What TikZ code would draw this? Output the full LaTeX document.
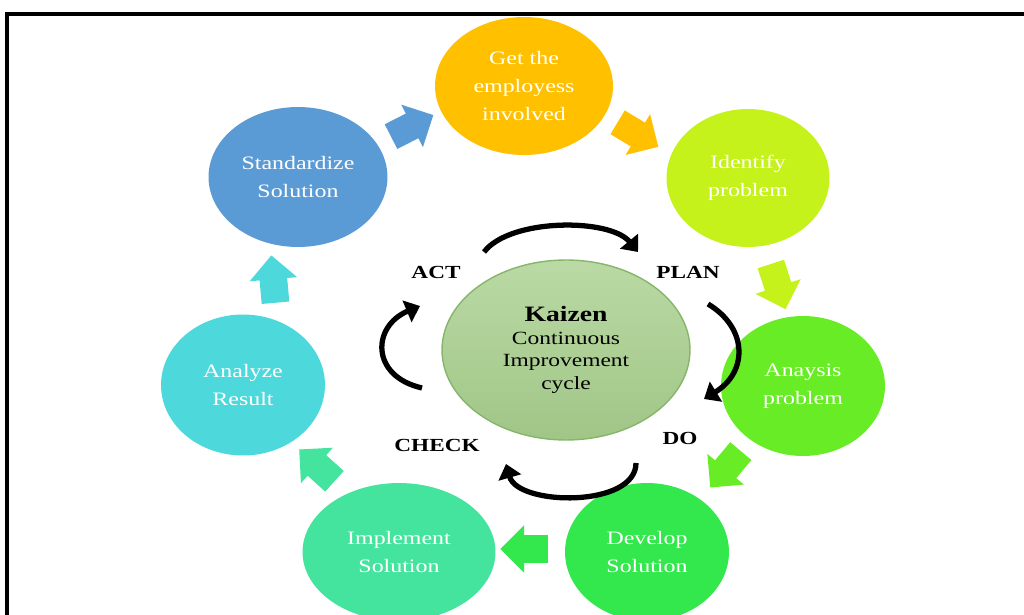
\documentclass[tikz,border=0pt]{standalone}
\usepackage{fontspec}
\setmainfont{Liberation Serif}[FakeStretch=1.26]
\usetikzlibrary{shapes.geometric, shapes.arrows, arrows.meta}
\definecolor{kzorange}{HTML}{FFC000}
\definecolor{kzlime}{HTML}{C6F21C}
\definecolor{kzgreen}{HTML}{68EC26}
\definecolor{kzmint}{HTML}{33E84C}
\definecolor{kzsea}{HTML}{44E49E}
\definecolor{kzcyan}{HTML}{4DD8DC}
\definecolor{kzblue}{HTML}{5B9BD5}
\definecolor{kzcore}{HTML}{A9D08E}
\definecolor{kzedge}{HTML}{86B56B}

\begin{document}
\begin{tikzpicture}[x=0.02cm, y=-0.02cm,
  every node/.style={font=\fontsize{10.8}{16}\selectfont},
  stage/.style={ellipse, inner sep=0, text=white, align=center,
                minimum width=3.3cm, minimum height=2.8cm},
  blockarrow/.style={single arrow, inner xsep=0, inner ysep=0.27cm,
                     single arrow head extend=0.2cm, minimum height=0.95cm},
  cyc/.style={line width=3pt, -{Triangle[length=8pt,width=13pt]}},
  pdca/.style={font=\fontsize{10.5}{12}\selectfont\bfseries}
]

\useasboundingbox (0,0) rectangle (1024,615);
\clip (0,0) rectangle (1024,615);

% Frame round the figure
\draw[line width=2.3pt] (7,14) rectangle (1040,640);

% Seven steps of the cycle
\node[stage, fill=kzorange, minimum width=3.56cm, minimum height=2.76cm]
  (involve) at (524,86) {Get the\\employess\\involved};
\node[stage, fill=kzlime, minimum width=3.26cm, minimum height=2.76cm]
  (identify) at (748,178) {Identify\\problem};
\node[stage, fill=kzgreen, minimum width=3.28cm, minimum height=2.8cm]
  (analysis) at (803,386) {Anaysis\\problem};
\node[stage, fill=kzmint, minimum width=3.28cm, minimum height=2.76cm]
  (develop) at (647,552) {Develop\\Solution};
\node[stage, fill=kzsea, minimum width=3.86cm, minimum height=2.76cm]
  (implement) at (399,552) {Implement\\Solution};
\node[stage, fill=kzcyan, minimum width=3.28cm, minimum height=2.82cm]
  (result) at (243,385) {Analyze\\Result};
\node[stage, fill=kzblue, minimum width=3.58cm, minimum height=2.8cm]
  (standard) at (298,177) {Standardize\\Solution};

% Kaizen in the middle
\node[ellipse, draw=kzedge, line width=0.8pt, top color=kzcore!80!white,
      bottom color=kzcore!95!black, minimum width=4.96cm, minimum height=3.6cm,
      align=center, inner sep=0, font=\fontsize{10.6}{12.8}\selectfont]
  (kaizen) at (566,350)
  {{\fontsize{12.5}{15}\selectfont\bfseries Kaizen}\\Continuous\\Improvement\\cycle};

% Block arrows between the steps
\node[blockarrow, fill=kzblue, rotate=27]    (ba1) at (406,129) {};
\node[blockarrow, fill=kzorange, rotate=-31] (ba2) at (632,131) {};
\node[blockarrow, fill=kzlime, rotate=-72]   (ba3) at (776,280) {};
\node[blockarrow, fill=kzgreen, rotate=-130] (ba4) at (730,464) {};
\node[blockarrow, fill=kzmint, rotate=180]   (ba5) at (531,549) {};
\node[blockarrow, fill=kzsea, rotate=138]    (ba6) at (322,470) {};
\node[blockarrow, fill=kzcyan, rotate=95]    (ba7) at (274,286) {};

% PDCA labels
\node[pdca] (act)   at (436,272) {ACT};
\node[pdca] (plan)  at (688,272) {PLAN};
\node[pdca] (do)    at (680,438) {DO};
\node[pdca] (check) at (437,445) {CHECK};

% Curved arrows round the centre
\draw[cyc] (484,252) .. controls (510,218) and (610,218) .. (638,252);
\draw[cyc] (708,304) .. controls (748,328) and (748,372) .. (704,399);
\draw[cyc] (636,463) .. controls (636,508) and (518,506) .. (506,464);
\draw[cyc] (422,388) .. controls (370,376) and (372,326) .. (420,306);

\end{tikzpicture}
\end{document}
